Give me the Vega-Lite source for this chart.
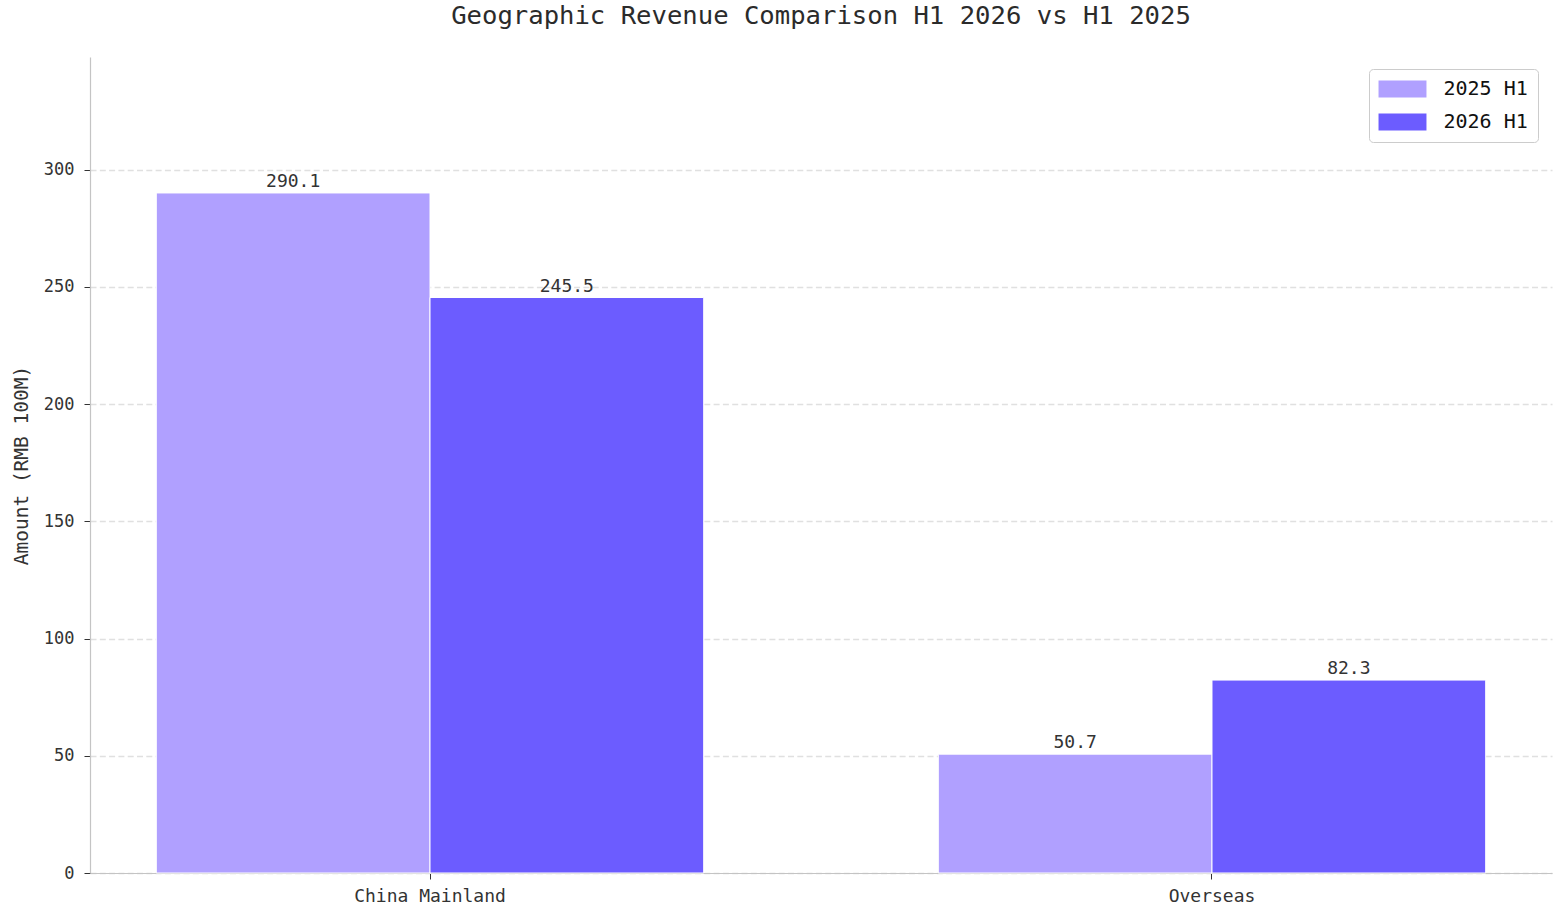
{
  "$schema": "https://vega.github.io/schema/vega-lite/v6.json",
  "width": 1462,
  "height": 816,
  "autosize": "none",
  "padding": {"left": 90, "top": 57, "right": 10, "bottom": 34},
  "background": "white",
  "title": {
    "text": "Geographic Revenue Comparison H1 2026 vs H1 2025",
    "anchor": "middle",
    "font": "DejaVu Sans Mono",
    "fontSize": 25.6,
    "fontWeight": "normal",
    "color": "#2b2b2b",
    "offset": 27
  },
  "data": {
    "values": [
      {"region": "China Mainland", "period": "2025 H1", "amount": 290.1},
      {"region": "China Mainland", "period": "2026 H1", "amount": 245.5},
      {"region": "Overseas", "period": "2025 H1", "amount": 50.7},
      {"region": "Overseas", "period": "2026 H1", "amount": 82.3}
    ]
  },
  "encoding": {
    "x": {
      "field": "region",
      "type": "nominal",
      "sort": null,
      "title": null,
      "scale": {"paddingInner": 0.3, "paddingOuter": 0.0848},
      "axis": {
        "labelAngle": 0,
        "labelFontSize": 18,
        "labelPadding": 8,
        "tickSize": 6,
        "grid": false
      }
    },
    "xOffset": {
      "field": "period",
      "type": "nominal",
      "scale": {"paddingInner": 0, "paddingOuter": 0}
    },
    "y": {
      "field": "amount",
      "type": "quantitative",
      "title": "Amount (RMB 100M)",
      "scale": {"domain": [0, 348.1], "nice": false, "zero": true},
      "axis": {
        "values": [0, 50, 100, 150, 200, 250, 300],
        "labelFontSize": 17,
        "labelPadding": 10,
        "tickSize": 6,
        "titleFontSize": 19.5,
        "titlePadding": 12,
        "grid": true,
        "gridColor": "#e0e0e0",
        "gridDash": [6, 3.3],
        "gridWidth": 1.3
      }
    }
  },
  "layer": [
    {
      "mark": {"type": "bar", "stroke": "white", "strokeWidth": 1},
      "encoding": {
        "color": {
          "field": "period",
          "type": "nominal",
          "title": null,
          "scale": {"domain": ["2025 H1", "2026 H1"], "range": ["#b0a0ff", "#6c5cff"]},
          "legend": {
            "orient": "none",
            "legendX": 1279,
            "legendY": 12,
            "padding": 10,
            "strokeColor": "#cccccc",
            "fillColor": "white",
            "cornerRadius": 4,
            "labelFontSize": 20,
            "labelOffset": 31,
            "symbolOffset": 13.5,
            "labelColor": "#111111",
            "symbolType": "M-2.82,-1H2.82V1H-2.82Z",
            "symbolSize": 289,
            "symbolStrokeWidth": 0,
            "symbolOpacity": 1,
            "rowPadding": 13
          }
        }
      }
    },
    {
      "mark": {"type": "text", "baseline": "bottom", "dy": -2, "fontSize": 18, "color": "#333333"},
      "encoding": {
        "text": {"field": "amount", "type": "quantitative", "format": ".1f"}
      }
    }
  ],
  "config": {
    "font": "DejaVu Sans Mono",
    "view": {"stroke": null},
    "axis": {
      "labelFont": "DejaVu Sans Mono",
      "titleFont": "DejaVu Sans Mono",
      "labelColor": "#333333",
      "titleColor": "#333333",
      "titleFontWeight": "normal",
      "domainColor": "#c4c4c4",
      "domainWidth": 1.2,
      "tickColor": "#333333",
      "tickWidth": 1
    },
    "legend": {
      "labelFont": "DejaVu Sans Mono"
    },
    "text": {"font": "DejaVu Sans Mono"}
  }
}
